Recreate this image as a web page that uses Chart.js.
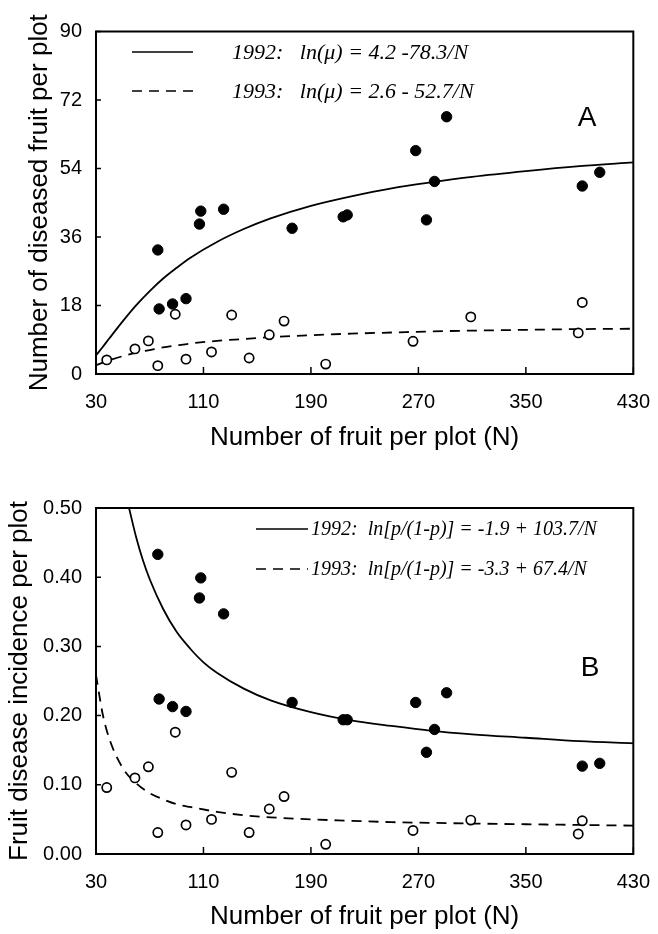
<!DOCTYPE html>
<html>
<head>
<meta charset="utf-8">
<script src="https://cdn.jsdelivr.net/npm/chart.js@4.4.0/dist/chart.umd.min.js"></script>
<style>
  html, body { margin: 0; padding: 0; background: #fff; }
  #wrapA { position: absolute; left: 0; top: 0; width: 658px; height: 470px; }
  #wrapB { position: absolute; left: 0; top: 470px; width: 658px; height: 464px; }
</style>
</head>
<body>
<div id="wrapA"><canvas id="chartA"></canvas></div>
<div id="wrapB"><canvas id="chartB"></canvas></div>
<script>
var fruitN1992    = [76, 77, 87, 97, 107, 108, 125, 176, 214, 217, 268, 276, 282, 291, 392, 405];
var diseased1992  = [32.6, 17.1, 18.4, 19.8, 39.4, 42.8, 43.3, 38.3, 41.3, 41.8, 58.7, 40.5, 50.6, 67.6, 49.4, 53.0];
var incidence1992 = [0.433, 0.224, 0.213, 0.206, 0.370, 0.399, 0.347, 0.219, 0.194, 0.194, 0.219, 0.147, 0.180, 0.233, 0.127, 0.131];

var fruitN1993    = [38, 59, 69, 76, 89, 97, 116, 131, 144, 159, 170, 201, 266, 309, 389, 392];
var diseased1993  = [3.7, 6.6, 8.7, 2.2, 15.7, 3.9, 5.8, 15.5, 4.2, 10.3, 13.9, 2.6, 8.6, 15.0, 10.8, 18.8];
var incidence1993 = [0.096, 0.110, 0.126, 0.031, 0.176, 0.042, 0.050, 0.118, 0.031, 0.065, 0.083, 0.014, 0.034, 0.049, 0.029, 0.048];

// fitted curves
var curveN        = [30, 35, 40, 50, 60, 70, 80, 90, 100, 120, 140, 160, 190, 220, 250, 280, 310, 350, 390, 430];
var fitCount1992  = [4.9, 7.1, 9.4, 13.9, 18.1, 21.8, 25.1, 27.9, 30.5, 34.7, 38.1, 40.9, 44.2, 46.7, 48.8, 50.4, 51.8, 53.3, 54.6, 55.6];
var fitCount1993  = [2.3, 3.0, 3.6, 4.7, 5.6, 6.3, 7.0, 7.5, 8.0, 8.7, 9.2, 9.7, 10.2, 10.6, 10.9, 11.2, 11.4, 11.6, 11.8, 11.9];
var fitInc1993    = [0.259, 0.202, 0.166, 0.124, 0.102, 0.088, 0.079, 0.072, 0.068, 0.061, 0.056, 0.053, 0.050, 0.048, 0.046, 0.045, 0.044, 0.043, 0.042, 0.041];
var curveN1992B   = [54.6, 60, 65, 70, 80, 90, 100, 110, 120, 140, 160, 190, 220, 250, 280, 310, 350, 390, 430];
var fitInc1992    = [0.500, 0.457, 0.424, 0.397, 0.354, 0.321, 0.297, 0.277, 0.262, 0.239, 0.222, 0.205, 0.193, 0.185, 0.178, 0.173, 0.168, 0.163, 0.160];

var xTicks  = [30, 110, 190, 270, 350, 430];
var yTicksA = [0, 18, 36, 54, 72, 90];
var yTicksB = [0, 0.1, 0.2, 0.3, 0.4, 0.5];

var legendTextA = ['1992:   ln(\u03bc) = 4.2 -78.3/N', '1993:   ln(\u03bc) = 2.6 - 52.7/N'];
var legendTextB = ['1992:  ln[p/(1-p)] = -1.9 + 103.7/N', '1993:  ln[p/(1-p)] = -3.3 + 67.4/N'];

Chart.defaults.font.family = '"Liberation Sans", Arial, Helvetica, sans-serif';
Chart.defaults.color = '#000';

function pairs(xs, ys) {
  var out = [];
  for (var i = 0; i < xs.length; i++) out.push({ x: xs[i], y: ys[i] });
  return out;
}

// box round the plot plus short inward ticks
var frameTicks = {
  id: 'frameTicks',
  beforeDatasetsDraw: function(chart) {
    var a = chart.chartArea, ctx = chart.ctx;
    var xs = chart.scales.x, ys = chart.scales.y;
    ctx.save();
    ctx.strokeStyle = '#000';
    ctx.lineWidth = 2;
    ctx.strokeRect(a.left, a.top, a.right - a.left, a.bottom - a.top);
    ctx.lineWidth = 1.5;
    ctx.beginPath();
    xs.ticks.forEach(function(t) {
      var px = xs.getPixelForValue(t.value);
      ctx.moveTo(px, a.bottom); ctx.lineTo(px, a.bottom - 7);
    });
    ys.ticks.forEach(function(t) {
      var py = ys.getPixelForValue(t.value);
      ctx.moveTo(a.left, py); ctx.lineTo(a.left + 5, py);
    });
    ctx.stroke();
    ctx.restore();
  }
};

// equation legend and panel letter
function makeNotes(texts, font, lineX, textX, rowY, letter, lx, ly) {
  return {
    id: 'notes',
    afterDatasetsDraw: function(chart) {
      var ctx = chart.ctx;
      ctx.save();
      ctx.strokeStyle = '#000';
      ctx.fillStyle = '#000';
      ctx.lineWidth = 1.7;
      for (var i = 0; i < texts.length; i++) {
        ctx.setLineDash(i == 0 ? [] : [10, 7]);
        ctx.beginPath();
        ctx.moveTo(lineX[0], rowY[i]);
        ctx.lineTo(lineX[1], rowY[i]);
        ctx.stroke();
        ctx.setLineDash([]);
        ctx.font = font;
        ctx.textAlign = 'left';
        ctx.textBaseline = 'middle';
        ctx.fillText(texts[i], textX, rowY[i] + 1);
      }
      ctx.font = '28px "Liberation Sans", Arial, sans-serif';
      ctx.textAlign = 'center';
      ctx.fillText(letter, lx, ly);
      ctx.restore();
    }
  };
}

function buildChart(id, cfg) {
  return new Chart(document.getElementById(id), {
    type: 'scatter',
    data: {
      datasets: [
        { data: cfg.obs1992, pointRadius: 5.2, pointBackgroundColor: '#000', pointBorderColor: '#000',
          pointBorderWidth: 1, showLine: false, order: 0 },
        { data: cfg.obs1993, pointRadius: 4.6, pointBackgroundColor: '#fff', pointBorderColor: '#000',
          pointBorderWidth: 1.7, showLine: false, order: 0 },
        { data: cfg.fit1992, showLine: true, pointRadius: 0, borderColor: '#000', borderWidth: 1.8,
          cubicInterpolationMode: 'monotone', order: 1 },
        { data: cfg.fit1993, showLine: true, pointRadius: 0, borderColor: '#000', borderWidth: 1.8,
          borderDash: [10, 7], cubicInterpolationMode: 'monotone', order: 1 }
      ]
    },
    options: {
      responsive: true,
      maintainAspectRatio: false,
      animation: false,
      layout: { padding: { top: cfg.padTop, right: 20, left: 0, bottom: 0 } },
      plugins: { legend: { display: false }, tooltip: { enabled: false } },
      scales: {
        x: {
          type: 'linear', min: 30, max: 430,
          afterBuildTicks: function(s) { s.ticks = xTicks.map(function(v) { return { value: v }; }); },
          afterFit: function(s) { s.height = cfg.xHeight; },
          grid: { display: false },
          border: { display: false },
          ticks: { font: { size: 20 }, color: '#000', padding: 8, maxRotation: 0 },
          title: { display: true, text: 'Number of fruit per plot (N)', font: { size: 26 }, color: '#000',
                   padding: { top: 0, bottom: cfg.xTitlePad } }
        },
        y: {
          type: 'linear', min: cfg.yTicks[0], max: cfg.yTicks[cfg.yTicks.length - 1],
          afterBuildTicks: function(s) { s.ticks = cfg.yTicks.map(function(v) { return { value: v }; }); },
          afterFit: function(s) { s.width = 96; },
          grid: { display: false },
          border: { display: false },
          ticks: { font: { size: 20 }, color: '#000', padding: 6, callback: cfg.fmt },
          title: { display: true, text: cfg.yTitle, font: { size: 26 }, color: '#000',
                   padding: { top: cfg.yTitlePad, bottom: 0 } }
        }
      }
    },
    plugins: [frameTicks, cfg.notes]
  });
}

var chartA = buildChart('chartA', {
  obs1992: pairs(fruitN1992, diseased1992),
  obs1993: pairs(fruitN1993, diseased1993),
  fit1992: pairs(curveN, fitCount1992),
  fit1993: pairs(curveN, fitCount1993),
  yTicks: yTicksA,
  fmt: function(v) { return String(v); },
  yTitle: 'Number of diseased fruit per plot',
  padTop: 31.5, xHeight: 96, xTitlePad: 16.4, yTitlePad: 24.4,
  notes: makeNotes(legendTextA, 'italic 22px "Liberation Serif", "Times New Roman", serif',
                   [132, 193], 232, [52, 91], 'A', 587, 118)
});

var chartB = buildChart('chartB', {
  obs1992: pairs(fruitN1992, incidence1992),
  obs1993: pairs(fruitN1993, incidence1993),
  fit1992: pairs(curveN1992B, fitInc1992),
  fit1993: pairs(curveN, fitInc1993),
  yTicks: yTicksB,
  fmt: function(v) { return Number(v).toFixed(2); },
  yTitle: 'Fruit disease incidence per plot',
  padTop: 38, xHeight: 80, xTitlePad: 1.4, yTitlePad: 4.4,
  notes: makeNotes(legendTextB, 'italic 20px "Liberation Serif", "Times New Roman", serif',
                   [256, 308], 311, [59, 99], 'B', 590, 198)
});
</script>
</body>
</html>
